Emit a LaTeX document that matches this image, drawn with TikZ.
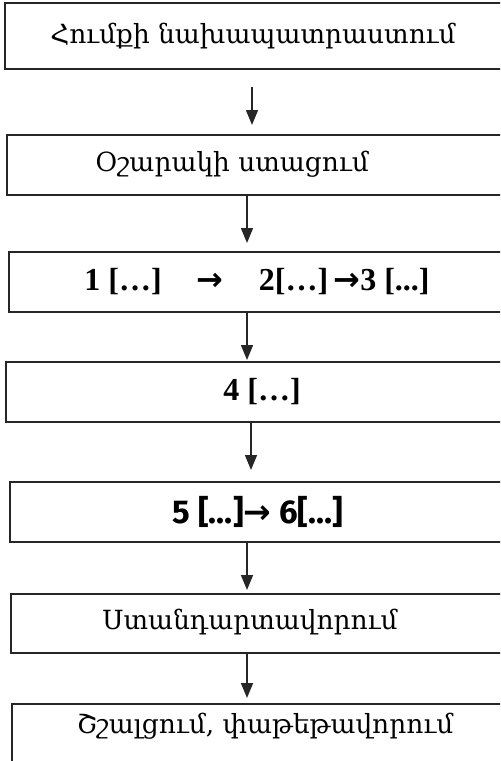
\documentclass[tikz,border=0pt]{standalone}
\usepackage{fontspec}
\setmainfont{Liberation Serif}
\newfontfamily\armfont{DejaVu Serif}
\newfontfamily\arrfont{DejaVu Sans}
\newfontfamily\numsans{Fira Sans}
\usetikzlibrary{arrows.meta}
\tikzset{
  box/.style={draw=black!85,line width=0.8pt,anchor=north west,inner sep=0pt,minimum width=300pt},
  lbl/.style={inner sep=1pt,font=\armfont\fontsize{13.2}{15}\selectfont},
  numlbl/.style={inner sep=1pt,font=\bfseries\fontsize{16}{18}\selectfont},
  flow/.style={draw=black!85,line width=0.75pt,-{Triangle[length=7.5pt,width=6pt]}}
}
\newcommand{\txtarrow}{{\arrfont\bfseries →}}
\begin{document}
\begin{tikzpicture}[x=0.5pt,y=-0.5pt]
\clip (0,0) rectangle (500,761);
\fill[white] (0,0) rectangle (500,761);
\foreach \n/\x/\y/\h in {1/4/2/33pt,2/6/134/30pt,3/8/251/30pt,4/5/361/30pt,5/9/481/30pt,6/10/593/29.5pt,7/11/703/40pt}
  {\node[box,minimum height=\h] (b\n) at (\x,\y) {};}
\node[lbl] (t1) at (253,36) {Հումքի նախապատրաստում};
\node[lbl] (t2) at (232,164) {Օշարակի ստացում};
\node[numlbl] (t3) at (257,282) {1 […]\hspace{1.1em}\txtarrow\hspace{1.1em}2[…]\,\txtarrow3 [...]};
\node[numlbl] (t4) at (262,392) {4 […]};
\node[numlbl,font=\numsans\bfseries\fontsize{16.5}{18}\selectfont] (t5) at (258,512) {5 […]\txtarrow\ 6[…]};
\node[lbl] (t6) at (250,622) {Ստանդարտավորում};
\node[lbl] (t7) at (265,726) {Շշալցում, փաթեթավորում};
\foreach \a/\b/\x/\s/\e in {1/2/252/8.5/4.5,2/3/247/0/4,3/4/247/0/0.5,4/5/251/0/5.5,5/6/247/0/1.5,6/7/247/0/2.5}
  {\coordinate (col\a) at (\x,0);
   \draw[flow,shorten <=\s pt,shorten >=\e pt] (b\a.south -| col\a) -- (b\b.north -| col\a);}
\end{tikzpicture}
\end{document}
